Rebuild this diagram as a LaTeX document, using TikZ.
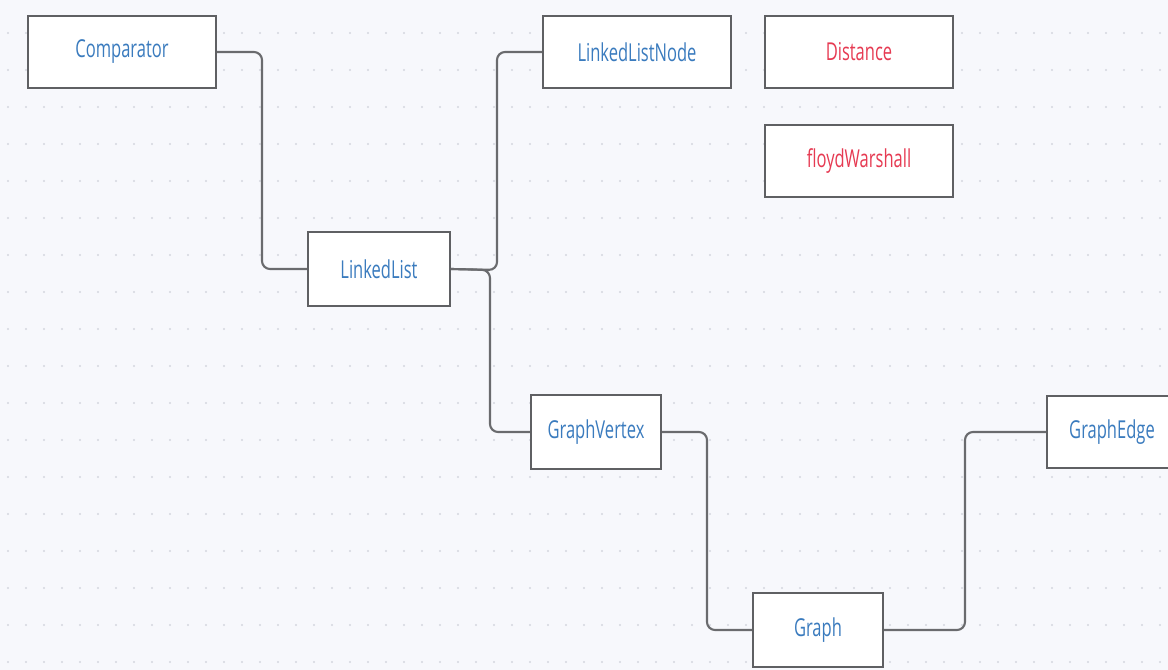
\documentclass[tikz,border=0pt]{standalone}
\usepackage{fontspec}
\setmainfont{Open Sans}[FakeStretch=0.67]
\definecolor{bg}{HTML}{F7F8FC}
\definecolor{dotc}{HTML}{D4D6DE}
\definecolor{boxline}{HTML}{5F6063}
\definecolor{wire}{HTML}{6A6B6E}
\definecolor{txtblue}{HTML}{3A7BBE}
\definecolor{txtred}{HTML}{E63A52}
\begin{document}
\begin{tikzpicture}[x=0.75pt,y=-0.75pt,
  box/.style={draw=boxline,line width=1.6pt,fill=white,inner sep=0pt,
    font=\fontsize{18.5}{20}\selectfont},
  bluebox/.style={box,text=txtblue},
  redbox/.style={box,text=txtred},
  wireline/.style={draw=wire,line width=1.6pt,rounded corners=6pt}]
\useasboundingbox (0,0) rectangle (1168,670);
\clip (0,0) rectangle (1168,670);
\fill[bg] (0,0) rectangle (1168,670);
\foreach \r in {0,...,17}{
  \foreach \c in {0,...,64}{
    \fill[dotc] (8+\c*18, 33+\r*37) circle (0.85pt);
  }
}
\node[bluebox,minimum width=141pt,minimum height=54pt] (comp) at (122,52) {Comparator};
\node[bluebox,minimum width=141pt,minimum height=54pt] (lln) at (637,52) {LinkedListNode};
\node[redbox,minimum width=141pt,minimum height=54pt] (dist) at (859,52) {Distance};
\node[redbox,minimum width=141pt,minimum height=54pt] (fw) at (859,161) {floydWarshall};
\node[bluebox,minimum width=106.5pt,minimum height=55.5pt] (ll) at (379,269) {LinkedList};
\node[bluebox,minimum width=97.5pt,minimum height=55pt] (gv) at (596,432) {GraphVertex};
\node[bluebox,minimum width=97.5pt,minimum height=54pt] (ge) at (1112,432) {GraphEdge};
\node[bluebox,minimum width=97.5pt,minimum height=55pt] (g) at (818,630) {Graph};
\coordinate (j1) at (262,52);
\coordinate (j2) at (497,270);
\coordinate (j3) at (490,270);
\coordinate (j4) at (707,432);
\coordinate (j5) at (965,630);
\draw[wireline] (comp.east) -- (j1) -- (j1 |- ll.west) -- (ll.west);
\draw[wireline] (ll.east) -- (j2) -- (j2 |- lln.west) -- (lln.west);
\draw[wireline] (ll.east) -- (j3) -- (j3 |- gv.west) -- (gv.west);
\draw[wireline] (gv.east) -- (j4) -- (j4 |- g.west) -- (g.west);
\draw[wireline] (g.east) -- (j5) -- (j5 |- ge.west) -- (ge.west);
\end{tikzpicture}
\end{document}
